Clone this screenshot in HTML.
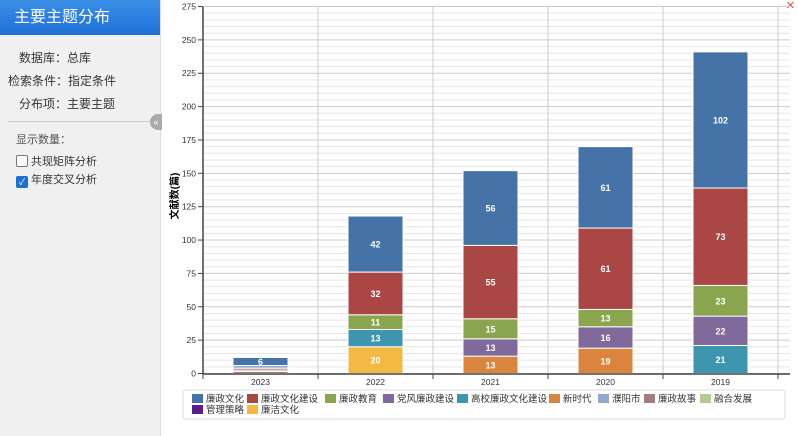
<!DOCTYPE html>
<html><head><meta charset="utf-8"><style>
body{margin:0;width:798px;height:436px;overflow:hidden;background:#fff;font-family:"Liberation Sans","Noto Sans CJK SC",sans-serif;position:relative}
.side{position:absolute;left:0;top:0;width:160px;height:436px;background:#f0f0f0;border-right:1px solid #ddd}
.hd{height:35px;background:linear-gradient(#3a90e8,#1f6fd6);color:#fff;font-size:16px;line-height:35px;padding-left:14px}
.row{font-size:12px;color:#333;position:absolute}
.cb{display:inline-block;width:10px;height:10px;border:1px solid #777;background:#fff;vertical-align:-2px;margin-right:3px;border-radius:2px}
</style></head><body>
<div class="side">
<div class="hd">主要主题分布</div>
<div class="row" style="left:19px;top:49px">数据库：总库</div>
<div class="row" style="left:8px;top:72px">检索条件：指定条件</div>
<div class="row" style="left:19px;top:95px">分布项：主要主题</div>
<div style="position:absolute;left:8px;top:121px;width:144px;border-top:1px solid #ccc"></div>
<div class="row" style="left:16px;top:131px;font-size:11px;color:#555">显示数量：</div>
<div class="row" style="left:16px;top:153px;font-size:11px"><span class="cb"></span>共现矩阵分析</div>
<div class="row" style="left:16px;top:171px;font-size:11px"><span class="cb" style="background:#1a6fd0;border-color:#1a6fd0;color:#fff;font-size:9px;line-height:10px;text-align:center">✓</span>年度交叉分析</div>
<div style="position:absolute;left:150px;top:114px;width:12px;height:16px;border-radius:8px 0 0 8px;background:#aaa;color:#fff;font-size:9px;line-height:16px;text-align:center">«</div>
</div>
<div style="position:absolute;left:786px;top:-3px;color:#e44;font-size:15px">×</div>
<svg style="position:absolute;left:0;top:0" width="798" height="436" font-family="Liberation Sans, Noto Sans CJK SC, sans-serif">
<g id="grid"></g>
<g id="bars"></g>
<line x1="203" y1="7" x2="203" y2="374" stroke="#444" stroke-width="1.5"/>
<line x1="203" y1="374" x2="790" y2="374" stroke="#444" stroke-width="1.5"/>
<text transform="translate(178,196) rotate(-90)" font-size="10" font-weight="bold" text-anchor="middle">文献数(篇)</text>
<g id="leg"></g>
</svg>
<script>
const NS="http://www.w3.org/2000/svg";
function el(t,a,txt,p){const e=document.createElementNS(NS,t);for(const k in a)e.setAttribute(k,a[k]);if(txt!=null)e.textContent=txt;document.getElementById(p).appendChild(e);}
const Y=v=>373.5-v*1.3345;
for(let v=0;v<=275;v+=5){const maj=v%25==0;
 el('line',{x1:203,x2:790,y1:Y(v),y2:Y(v),stroke:maj?'#ccc':'#e6e6e6','stroke-width':1},null,'grid');
 if(maj){el('line',{x1:198,x2:203,y1:Y(v),y2:Y(v),stroke:'#444'},null,'grid');
 el('text',{x:196,y:Y(v)+3,'font-size':8.5,'text-anchor':'end',fill:'#333'},v,'grid');}}
for(let i=0;i<=5;i++){const x=203+i*115;el('line',{x1:x,x2:x,y1:7,y2:374,stroke:'#ccc'},null,'grid');el('line',{x1:x,x2:x,y1:374,y2:379,stroke:'#444'},null,'grid');}
const C={a:'#4572A7',b:'#AA4643',c:'#89A54E',d:'#80699B',e:'#3D96AE',f:'#DB843D',g:'#92A8CD',h:'#A47D7C',i:'#B5CA92',j:'#5A1E8C',k:'#F4B942'};
const data=[
 ['2023',[['h',1.5],['b',1],['h',1.5],['g',2],['a',6,1]]],
 ['2022',[['k',20],['e',13],['c',11],['b',32],['a',42]]],
 ['2021',[['f',13],['d',13],['c',15],['b',55],['a',56]]],
 ['2020',[['f',19],['d',16],['c',13],['b',61],['a',61]]],
 ['2019',[['e',21],['d',22],['c',23],['b',73],['a',102]]]];
data.forEach((d,i)=>{const cx=203+115*(i+0.5);let s=0;
 d[1].forEach(([k,v,lab])=>{const y1=Y(s),y2=Y(s+v);
  el('rect',{x:cx-27.5,y:y2,width:55,height:y1-y2,fill:C[k],stroke:'#fff','stroke-width':1},null,'bars');
  if(v>=6)el('text',{x:cx,y:(y1+y2)/2+3.5,'font-size':9,'font-weight':'bold',fill:'#fff','text-anchor':'middle'},v,'bars');
  s+=v;});
 el('text',{x:cx,y:385,'font-size':8.5,'text-anchor':'middle',fill:'#333'},d[0],'bars');});
el('rect',{x:183,y:390,width:602,height:29,rx:3,fill:'#fff',stroke:'#ddd'},null,'leg');
const L=[['a','廉政文化',192,402],['b','廉政文化建设',247,402],['c','廉政教育',325,402],['d','党风廉政建设',383,402],['e','高校廉政文化建设',457,402],['f','新时代',549,402],['g','濮阳市',598,402],['h','廉政故事',644,402],['i','融合发展',700,402],['j','管理策略',192,413],['k','廉洁文化',247,413]];
L.forEach(([k,t,x,y])=>{el('rect',{x:x,y:y-8,width:11,height:9,fill:C[k]},null,'leg');el('text',{x:x+14,y:y,'font-size':9.5,fill:'#333'},t,'leg');});
</script>
</body></html>
